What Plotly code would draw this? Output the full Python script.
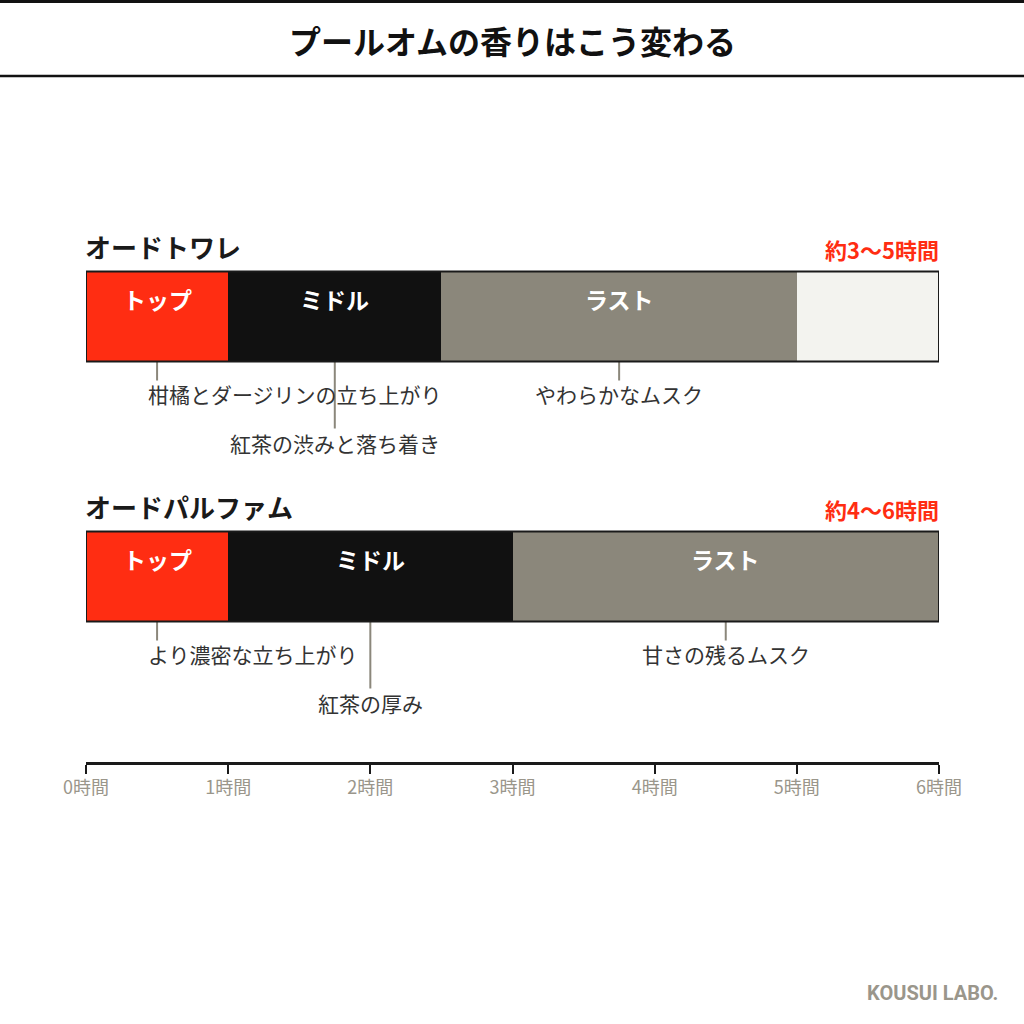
import plotly.graph_objects as go

# ---- data ----
products = ["オードトワレ", "オードパルファム"]
duration_labels = ["約3〜5時間", "約4〜6時間"]
phases = ["トップ", "ミドル", "ラスト"]
edt_bounds = [0, 1, 2.5, 5]
edp_bounds = [0, 1, 3, 6]
edt_notes = ["柑橘とダージリンの立ち上がり", "紅茶の渋みと落ち着き", "やわらかなムスク"]
edp_notes = ["より濃密な立ち上がり", "紅茶の厚み", "甘さの残るムスク"]
tick_vals = [0, 1, 2, 3, 4, 5, 6]
tick_text = ["0時間", "1時間", "2時間", "3時間", "4時間", "5時間", "6時間"]
title = "プールオムの香りはこう変わる"
credit = "KOUSUI LABO."
x_max = 6

# ---- style ----
FONT = "Noto Sans CJK JP"
RED = "#FF2D12"
BLACK = "#111111"
GRAY = "#8B877B"
LIGHT = "#F3F3EF"
phase_colors = [RED, BLACK, GRAY]
TEXT = "#333333"
TICK = "#9A968B"

W = H = 1024
def Y(p):  # pixel row -> data y
    return H - p

rows = [
    dict(name=products[0], dur=duration_labels[0], bounds=edt_bounds, notes=edt_notes, top=271.5),
    dict(name=products[1], dur=duration_labels[1], bounds=edp_bounds, notes=edp_notes, top=531.5),
]
BAR_H = 90

fig = go.Figure()
shapes = []
annos = []

for r in rows:
    b = r["bounds"]
    cy = Y(r["top"] + BAR_H / 2)
    for i in range(3):
        fig.add_trace(go.Bar(
            orientation="h", y=[cy], x=[b[i + 1] - b[i]], base=[b[i]], width=BAR_H,
            marker=dict(color=phase_colors[i], line=dict(width=0)), showlegend=False,
            hoverinfo="skip"))
        mid = (b[i] + b[i + 1]) / 2
        annos.append(dict(x=mid, y=Y(r["top"] + 27.5), xref="x", yref="y", text="<b>" + phases[i] + "</b>",
                          showarrow=False, font=dict(family=FONT, size=23, color="white")))
        # connector
        long = (i == 1)
        end = r["top"] + BAR_H + (67 if long else 19)
        shapes.append(dict(type="line", xref="x", yref="y", x0=mid, x1=mid,
                           y0=Y(r["top"] + BAR_H), y1=Y(end), line=dict(color=GRAY, width=2)))
        ta = dict(x=mid, y=Y(end + (14 if long else 13)), xref="x", yref="y", text=r["notes"][i],
                  showarrow=False, font=dict(family=FONT, size=21, color=TEXT))
        if i == 0:
            ta.update(xanchor="left", xshift=-11)
        annos.append(ta)
    if b[-1] < x_max:
        fig.add_trace(go.Bar(
            orientation="h", y=[cy], x=[x_max - b[-1]], base=[b[-1]], width=BAR_H,
            marker=dict(color=LIGHT, line=dict(width=0)), showlegend=False, hoverinfo="skip"))
    shapes.append(dict(type="rect", xref="x", yref="y", x0=0, x1=x_max,
                       y0=Y(r["top"]), y1=Y(r["top"] + BAR_H), line=dict(color="#1a1a1a", width=2)))
    annos.append(dict(x=0, y=Y(r["top"] - 25), xref="x", yref="y", xanchor="left", xshift=-3,
                      text="<b>" + r["name"] + "</b>", showarrow=False,
                      font=dict(family=FONT, size=26, color="#1a1a1a")))
    annos.append(dict(x=x_max, y=Y(r["top"] - 23), xref="x", yref="y", xanchor="right", xshift=2,
                      text="<b>" + r["dur"] + "</b>", showarrow=False,
                      font=dict(family=FONT, size=22, color=RED)))

# header
shapes.append(dict(type="line", xref="paper", yref="paper", x0=0, x1=1, y0=(H - 1.5) / H, y1=(H - 1.5) / H,
                   line=dict(color="#111111", width=3)))
shapes.append(dict(type="line", xref="paper", yref="paper", x0=0, x1=1, y0=(H - 76) / H, y1=(H - 76) / H,
                   line=dict(color="#111111", width=2.5)))
annos.append(dict(x=0.5, y=(H - 40) / H, xref="paper", yref="paper", xanchor="center", yanchor="middle",
                  text="<b>" + title + "</b>",
                  showarrow=False, font=dict(family=FONT, size=32, color="#111111")))
annos.append(dict(x=1000 / W, y=(H - 993) / H, xref="paper", yref="paper", xanchor="right", yanchor="middle",
                  text="<b>" + credit + "</b>", showarrow=False,
                  font=dict(family="Roboto", size=20, color=TICK)))

fig.update_layout(
    width=W, height=H, margin=dict(l=0, r=0, t=0, b=0, pad=0, autoexpand=False),
    paper_bgcolor="white", plot_bgcolor="white", barmode="overlay", bargap=0,
    xaxis=dict(domain=[86 / W, 939 / W], range=[0, x_max], anchor="free", position=(H - 763) / H,
               automargin=False,
               tickvals=tick_vals, ticktext=tick_text, ticks="outside", ticklen=9, tickwidth=2,
               tickcolor="#1a1a1a", showline=True, linecolor="#1a1a1a", linewidth=2.5,
               ticklabelstandoff=-1,
               showgrid=False, zeroline=False, tickfont=dict(family=FONT, size=18, color=TICK)),
    yaxis=dict(domain=[0, 1], range=[0, H], visible=False, showgrid=False, zeroline=False,
               automargin=False),
    shapes=shapes, annotations=annos,
)

fig.write_html("out.html", config={"displayModeBar": False, "staticPlot": True},
               post_script="document.body.style.margin='0';document.body.style.padding='0';")
